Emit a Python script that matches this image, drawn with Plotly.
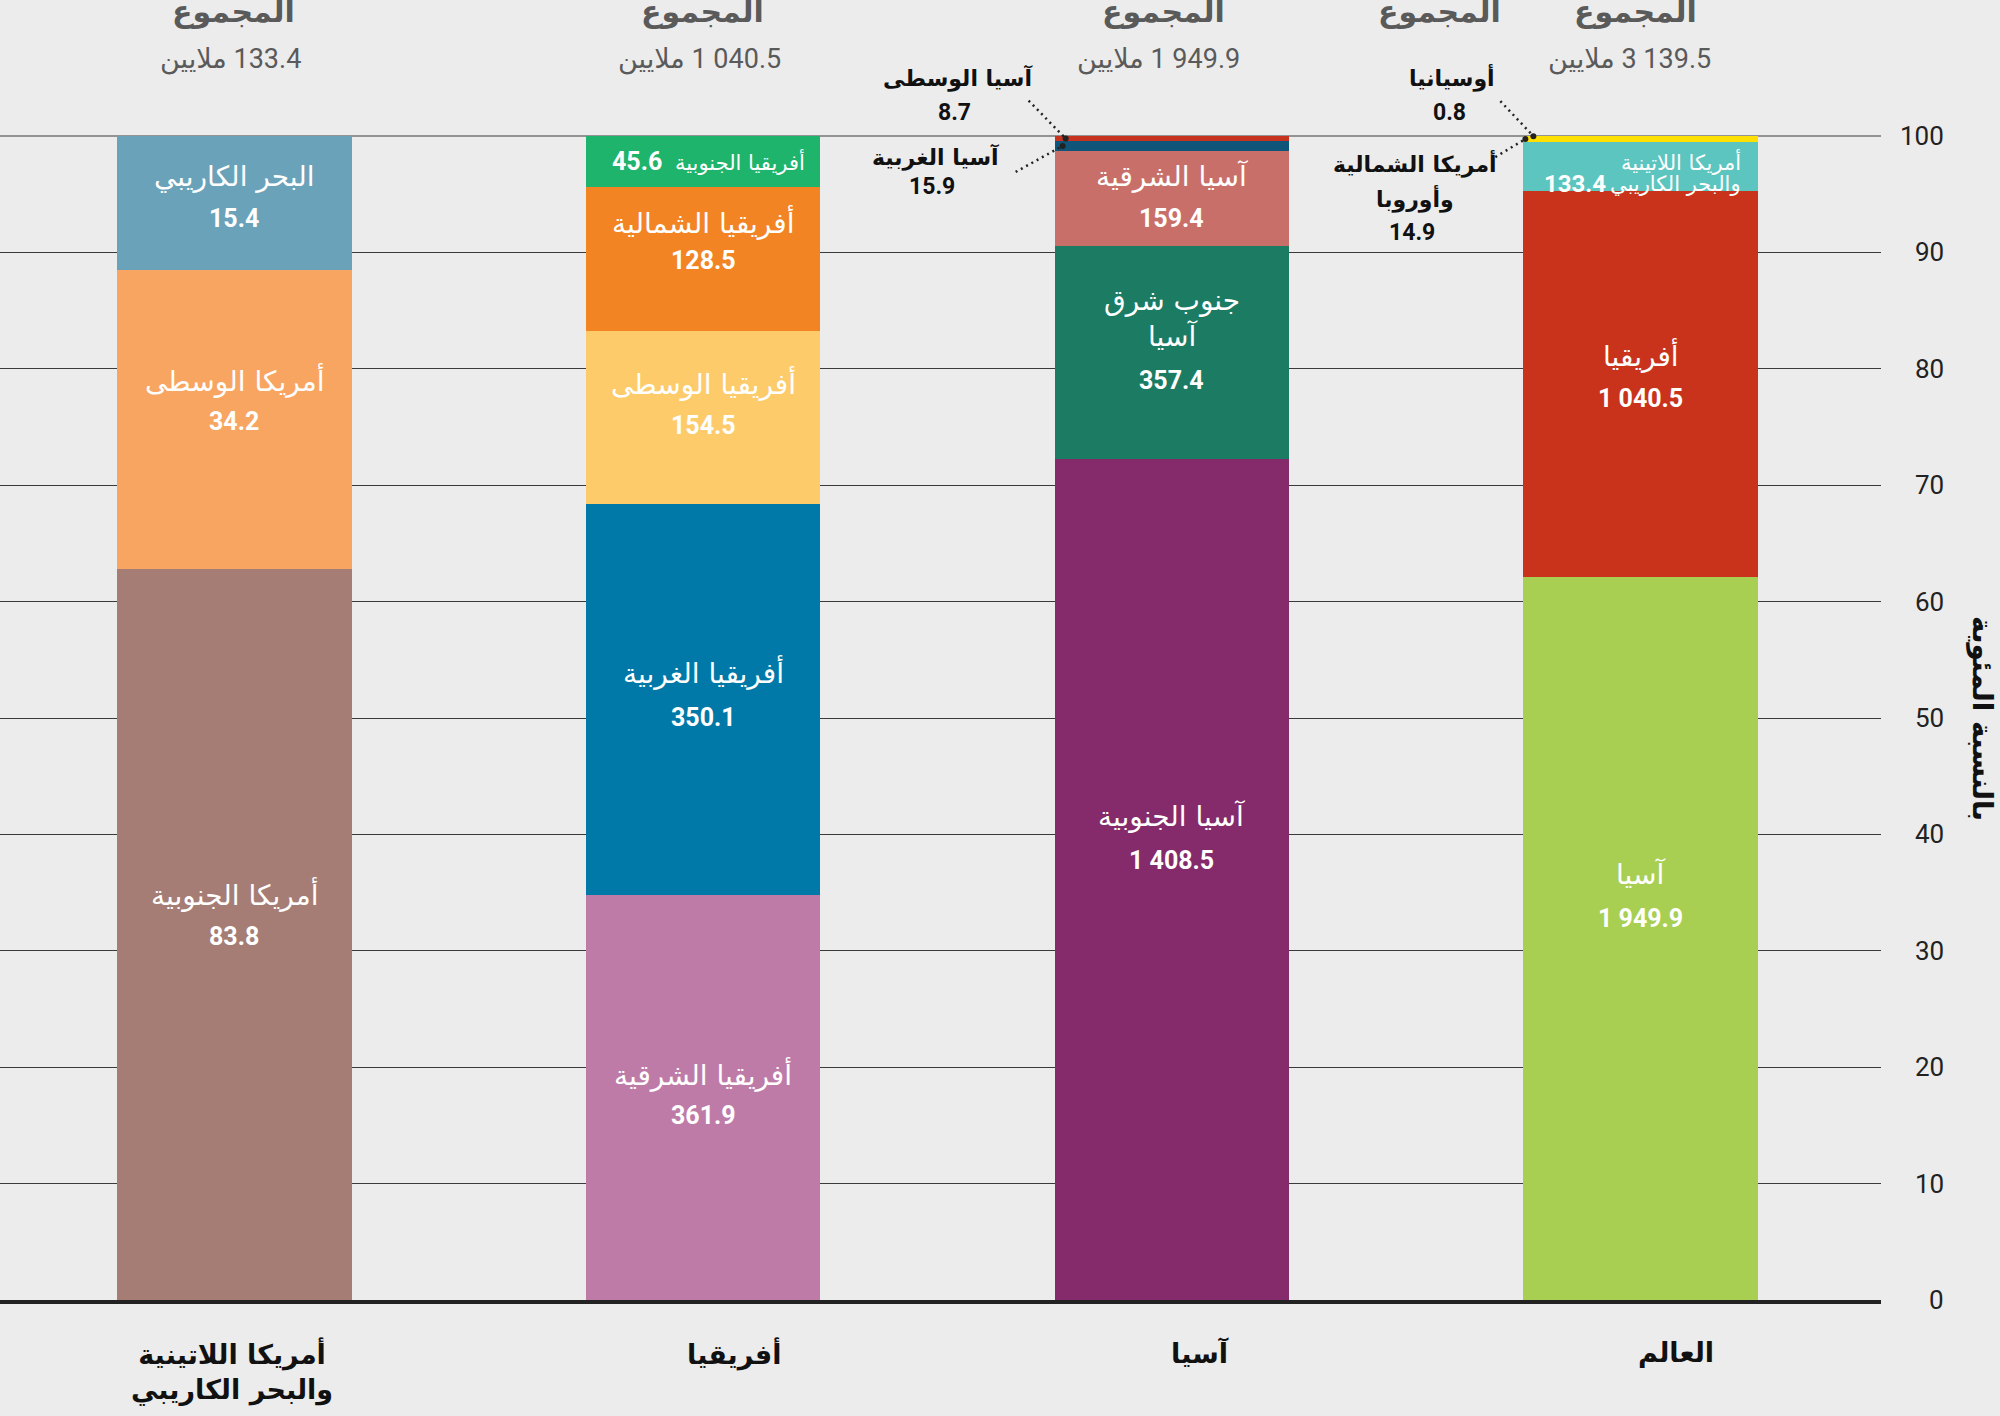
import plotly.graph_objects as go

# ---------------- data ----------------
group_keys = ["أمريكا اللاتينية والبحر الكاريبي", "أفريقيا", "آسيا", "العالم"]
group_axis_labels = ["أمريكا اللاتينية<br>والبحر الكاريبي", "أفريقيا", "آسيا", "العالم"]
group_totals = [133.4, 1040.5, 1949.9, 3139.5]

latam_regions = ["أمريكا الجنوبية", "أمريكا الوسطى", "البحر الكاريبي"]
latam_values = [83.8, 34.2, 15.4]

africa_regions = ["أفريقيا الشرقية", "أفريقيا الغربية", "أفريقيا الوسطى", "أفريقيا الشمالية", "أفريقيا الجنوبية"]
africa_values = [361.9, 350.1, 154.5, 128.5, 45.6]

asia_regions = ["آسيا الجنوبية", "جنوب شرق آسيا", "آسيا الشرقية", "آسيا الغربية", "آسيا الوسطى"]
asia_values = [1408.5, 357.4, 159.4, 15.9, 8.7]

world_regions = ["آسيا", "أفريقيا", "أمريكا اللاتينية والبحر الكاريبي", "أمريكا الشمالية وأوروبا", "أوسيانيا"]
world_values = [1949.9, 1040.5, 133.4, 14.9, 0.8]

tick_values = [0, 10, 20, 30, 40, 50, 60, 70, 80, 90, 100]
tick_labels = ["0", "10", "20", "30", "40", "50", "60", "70", "80", "90", "100"]

header_word = "المجموع"
unit_word = "ملايين"
y_title = "بالنسبة المئوية"

# ---------------- styles ----------------
latam_colors = ["#a57d74", "#f8a562", "#6aa2ba"]
africa_colors = ["#bf7ba7", "#0079a8", "#fdcb6a", "#f28424", "#1eb46c"]
asia_colors = ["#852a6a", "#1b7b63", "#c96f69", "#0f5479", "#c8331f"]
world_colors = ["#a8cf52", "#c9331c", "#5cc5bf", "#ffe000", "#ffe000"]

region_names = [latam_regions, africa_regions, asia_regions, world_regions]
region_values = [latam_values, africa_values, asia_values, world_values]
region_colors = [latam_colors, africa_colors, asia_colors, world_colors]

BG = "#ececec"
AR = "DejaVu Sans"
NUM = "Roboto, DejaVu Sans"

W, H = 2000, 1416
ML, MR, MT, MB = 0, 119, 136, 116
PW = W - ML - MR
PH = H - MT - MB
BAR_W = 0.5
X_RANGE = [-0.5, 3.513]
Y_RANGE = [0, 100]

RLE, PDF = "\u202b", "\u202c"


def px_x(p):
    return (p - ML) / PW


def px_y(p):
    return (H - MB - p) / PH


def x_to_paper(x):
    return (x - X_RANGE[0]) / (X_RANGE[1] - X_RANGE[0])


def y_to_paper(y):
    return (y - Y_RANGE[0]) / (Y_RANGE[1] - Y_RANGE[0])


def fmt(v):
    return f"{v:,.1f}".replace(",", "\u00a0")


fig = go.Figure()

cum_tops = []
for gi, (names, vals, cols) in enumerate(zip(region_names, region_values, region_colors)):
    tot = sum(vals)
    tops = []
    c = 0.0
    for name, v, col in zip(names, vals, cols):
        pct = v / tot * 100
        fig.add_trace(go.Bar(
            x=[group_keys[gi]], y=[pct], width=BAR_W, name=name,
            marker=dict(color=col, line=dict(width=0)),
            showlegend=False, hovertemplate=f"{name}: {fmt(v)}<extra></extra>",
        ))
        tops.append((c, c + pct))
        c += pct
    cum_tops.append(tops)

annotations = []


def ann(text, x, y, xref="x", yref="y", size=24, color="white", family=AR,
        xanchor="center", yanchor="middle", xshift=0, yshift=0, textangle=0, align="center"):
    annotations.append(dict(
        text=text, x=x, y=y, xref=xref, yref=yref, showarrow=False,
        font=dict(size=size, color=color, family=family),
        xanchor=xanchor, yanchor=yanchor, xshift=xshift, yshift=yshift,
        textangle=textangle, align=align,
    ))


# in-bar labels: (name dy, number dy) in pixels from segment middle (positive = down)
inbar_offsets = {
    (0, 0): (-40, 2), (0, 1): (-40, 2), (0, 2): (-27, 15),
    (1, 0): (-24, 18), (1, 1): (-27, 18), (1, 2): (-34, 8), (1, 3): (-37, 2),
    (2, 0): (-63, -19), (2, 1): (-34, 28), (2, 2): (-22, 20),
    (3, 0): (-64, -20), (3, 1): (-29, 14),
}
name_display = {(2, 1): "جنوب شرق<br>آسيا"}

for (gi, si), (ndy, vdy) in inbar_offsets.items():
    lo, hi = cum_tops[gi][si]
    mid = (lo + hi) / 2
    nm = name_display.get((gi, si), region_names[gi][si])
    ann(nm, gi, mid, size=28, yshift=-ndy)
    ann(f"<b>{fmt(region_values[gi][si])}</b>", gi, mid, size=25, family=NUM, yshift=-vdy)

# Southern Africa inline label
lo, hi = cum_tops[1][4]
mid = (lo + hi) / 2
ann(region_names[1][4], 1, mid, size=21, xanchor="right", xshift=104)
ann(f"<b>{fmt(region_values[1][4])}</b>", 1, mid, size=25, family=NUM, xshift=-66)

# World - Latin America label (two lines + number)
lo, hi = cum_tops[3][2]
ann("أمريكا اللاتينية", 3, hi, size=21, xanchor="right", xshift=102, yshift=-20)
ann("والبحر الكاريبي", 3, hi, size=21, xanchor="right", xshift=102, yshift=-42)
ann(f"<b>{fmt(region_values[3][2])}</b>", 3, hi, size=24, family=NUM, xshift=-66, yshift=-42)

# outside (black) labels
ann(f"<b>{region_names[2][4]}</b>", px_x(957), px_y(78), xref="paper", yref="paper", size=22, color="#111")
ann(f"<b>{fmt(region_values[2][4])}</b>", px_x(954), px_y(112), xref="paper", yref="paper", size=23, color="#111", family=NUM)
ann(f"<b>{region_names[2][3]}</b>", px_x(935), px_y(157), xref="paper", yref="paper", size=22, color="#111")
ann(f"<b>{fmt(region_values[2][3])}</b>", px_x(932), px_y(187), xref="paper", yref="paper", size=23, color="#111", family=NUM)
ann(f"<b>{region_names[3][4]}</b>", px_x(1452), px_y(78), xref="paper", yref="paper", size=22, color="#111")
ann(f"<b>{fmt(region_values[3][4])}</b>", px_x(1449), px_y(112), xref="paper", yref="paper", size=23, color="#111", family=NUM)
ann("<b>أمريكا الشمالية</b>", px_x(1415), px_y(163), xref="paper", yref="paper", size=22, color="#111")
ann("<b>وأوروبا</b>", px_x(1415), px_y(198), xref="paper", yref="paper", size=22, color="#111")
ann(f"<b>{fmt(region_values[3][3])}</b>", px_x(1412), px_y(232), xref="paper", yref="paper", size=23, color="#111", family=NUM)

# shapes
shapes = [dict(type="line", xref="paper", yref="paper", x0=0, x1=1, y0=1, y1=1,
               line=dict(color="#3a3a3a", width=1), layer="below")]


def leader(gi, si, sx, sy, ex, ey):
    lo, hi = cum_tops[gi][si]
    yanc = y_to_paper((lo + hi) / 2)
    xanc = x_to_paper(gi - BAR_W / 2)
    shapes.append(dict(type="line", xref="paper", yref="paper", xsizemode="pixel", ysizemode="pixel",
                       xanchor=xanc, yanchor=yanc, x0=sx, y0=sy, x1=ex, y1=ey,
                       line=dict(color="#222", width=2.5, dash="2px,4px")))
    shapes.append(dict(type="circle", xref="paper", yref="paper", xsizemode="pixel", ysizemode="pixel",
                       xanchor=xanc, yanchor=yanc, x0=ex - 3, x1=ex + 3, y0=ey - 3, y1=ey + 3,
                       fillcolor="#222", line=dict(width=0)))


leader(2, 4, -26, 38, 11, 0)
leader(2, 3, -39, -26, 8, 0)
leader(3, 4, -23, 35, 10, 0)
leader(3, 3, -28, -18, 2, 0)

# headers
header_x = [(0, -1), (1, -1), (2, -8), (2, 268), (3, -5)]
for gx, xs in header_x:
    ann(f"<b>{header_word}</b>", gx, px_y(12), yref="paper", size=30, color="#5a5a5a", xshift=xs)
total_x = [(0, -4), (1, -4), (2, -13), (3, -11)]
for (gx, xs), tot in zip(total_x, group_totals):
    ann(f"{RLE}{fmt(tot)} {unit_word}{PDF}", gx, px_y(59), yref="paper", size=27, color="#5a5a5a",
        family=NUM, xshift=xs)

# category labels under the axis
cat_shift = [-2, 31, 28, 35]
for gi, (lab, xs) in enumerate(zip(group_axis_labels, cat_shift)):
    ann(f"<b>{lab}</b>", gi, px_y(1335), yref="paper", size=27, color="#111", xshift=xs, yanchor="top")

# y tick labels
for v, lab in zip(tick_values, tick_labels):
    ann(lab, px_x(1946), v, xref="paper", size=26, color="#222", family=NUM, xanchor="right")

# y title
ann(f"<b>{y_title}</b>", px_x(1983), 50, xref="paper", size=28, color="#111", textangle=90)

fig.update_layout(
    width=W, height=H,
    margin=dict(l=ML, r=MR, t=MT, b=MB, pad=0),
    paper_bgcolor=BG, plot_bgcolor=BG,
    barmode="stack", bargap=0,
    font=dict(family=AR),
    annotations=annotations, shapes=shapes,
    xaxis=dict(type="category", range=X_RANGE, showticklabels=False, showgrid=False,
               zeroline=False, showline=True, linecolor="#222", linewidth=4, ticks="",
               fixedrange=True),
    yaxis=dict(range=Y_RANGE, tickvals=tick_values, showticklabels=False, showgrid=True,
               gridcolor="#3a3a3a", gridwidth=1, zeroline=False, showline=False, ticks="",
               fixedrange=True),
)

fig.write_html("out.html", config={"displayModeBar": False},
               post_script="document.body.style.margin='0';")
